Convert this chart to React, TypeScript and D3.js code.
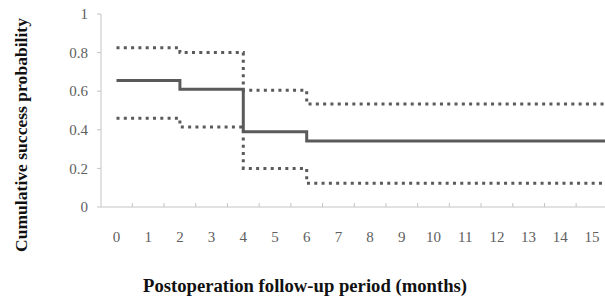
import * as d3 from "d3";
import React from "react";

// Kaplan-Meier estimate with 95% confidence band
const stepMonths = [0, 2, 4, 6];
const endMonth = 15.6;
const survival = [0.655, 0.61, 0.39, 0.342];
const upperCI = [0.825, 0.8, 0.605, 0.534];
const lowerCI = [0.46, 0.415, 0.2, 0.123];

const monthTicks = d3.range(0, 16);
const probTicks = [0, 0.2, 0.4, 0.6, 0.8, 1];

const width = 605;
const height = 301;

const App: React.FC = () => {
  const axisLeftX = 101;
  const x = d3.scaleLinear().domain([0, 1]).range([116.5, 148.2]);
  const y = d3.scaleLinear().domain([0, 1]).range([207, 14]);

  const toPts = (vals: number[]) => [
    ...stepMonths.map((m, i) => [m, vals[i]] as [number, number]),
    [endMonth, vals[vals.length - 1]] as [number, number],
  ];

  const line = d3
    .line<[number, number]>()
    .x((d) => x(d[0]))
    .y((d) => y(d[1]))
    .curve(d3.curveStepAfter);

  const half = (x(1) - x(0)) / 2;
  const catTicks = monthTicks.map((m) => x(m) + half);

  const lineColor = "#5a5a5a";
  const axisColor = "#c4c4c4";
  const textColor = "#606060";
  const serif = "'Liberation Serif', 'DejaVu Serif', serif";

  return (
    <svg
      width={width}
      height={height}
      style={{ position: "absolute", left: 0, top: 0, background: "#fff" }}
    >
      {/* axes */}
      <line x1={axisLeftX} x2={axisLeftX} y1={y(1)} y2={y(0)} stroke={axisColor} strokeWidth={1} />
      <line x1={axisLeftX} x2={width} y1={y(0)} y2={y(0)} stroke={axisColor} strokeWidth={1} />
      {probTicks.map((p) => (
        <g key={p}>
          <line x1={axisLeftX - 4} x2={axisLeftX} y1={y(p)} y2={y(p)} stroke={axisColor} />
          <text
            x={88}
            y={y(p)}
            dy="0.35em"
            textAnchor="end"
            fontFamily={serif}
            fontSize={15}
            fill={textColor}
          >
            {p === 0 || p === 1 ? String(p) : p.toFixed(1)}
          </text>
        </g>
      ))}
      {catTicks.map((cx, i) => (
        <line key={i} x1={cx} x2={cx} y1={y(0) - 4} y2={y(0)} stroke={axisColor} />
      ))}
      {monthTicks.map((m) => (
        <text
          key={m}
          x={x(m)}
          y={242}
          textAnchor="middle"
          fontFamily={serif}
          fontSize={15}
          fill={textColor}
        >
          {m}
        </text>
      ))}

      {/* series */}
      <path d={line(toPts(upperCI))!} fill="none" stroke={lineColor} strokeWidth={3} strokeDasharray="3 4.3" />
      <path d={line(toPts(lowerCI))!} fill="none" stroke={lineColor} strokeWidth={3} strokeDasharray="3 4.3" />
      <path d={line(toPts(survival))!} fill="none" stroke={lineColor} strokeWidth={3} />

      {/* titles */}
      <text
        transform={`translate(27, 135) rotate(-90)`}
        textAnchor="middle"
        fontFamily={serif}
        fontWeight="bold"
        fontSize={17}
        textLength={234}
        lengthAdjust="spacingAndGlyphs"
        fill="#111"
      >
        Cumulative success probability
      </text>
      <text
        x={305}
        y={292}
        textAnchor="middle"
        fontFamily={serif}
        fontWeight="bold"
        fontSize={18}
        textLength={324}
        lengthAdjust="spacingAndGlyphs"
        fill="#111"
      >
        Postoperation follow-up period (months)
      </text>
    </svg>
  );
};

export default App;
